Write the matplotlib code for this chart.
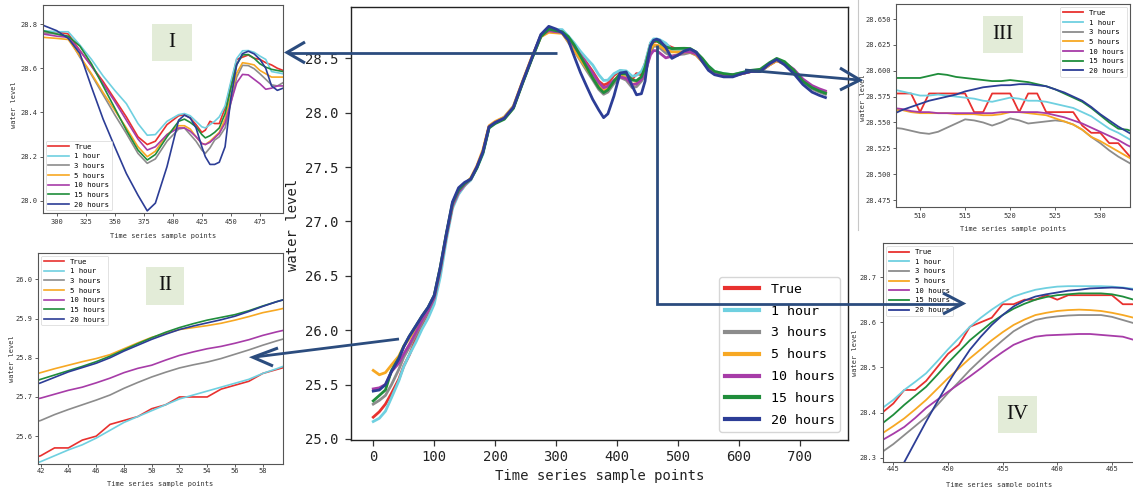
import numpy as np
import matplotlib
matplotlib.use("Agg")
import matplotlib.pyplot as plt
from matplotlib.lines import Line2D
from matplotlib.patches import Rectangle

W, H = 1133, 487
MONO = "DejaVu Sans Mono"

labels = ["True", "1 hour", "3 hours", "5 hours", "10 hours", "15 hours", "20 hours"]
colors = ["#e8312f", "#6fd0e0", "#8c8c8c", "#f7a823", "#a73ca8", "#1f8d3b", "#2c3d96"]

# ---- main chart data (sample index vs water level)
main_x = [0, 10, 20, 30, 42, 50, 59, 70, 80, 90, 100, 110, 120, 130, 140, 150, 160, 170,
          180, 190, 200, 215, 230, 245, 260, 275, 288, 300, 310, 320, 330, 340, 350, 360,
          370, 378, 385, 395, 405, 415, 425, 432, 440, 446, 450, 455, 460, 465, 470, 480,
          490, 500, 510, 520, 530, 540, 550, 560, 575, 590, 605, 620, 635, 650, 662, 675,
          690, 705, 720, 732, 742]
main_y = {
    "True": [25.20, 25.25, 25.32, 25.42, 25.55, 25.67, 25.77, 25.92, 26.05, 26.16, 26.29, 26.55,
             26.87, 27.15, 27.26, 27.33, 27.39, 27.50, 27.64, 27.87, 27.91, 27.95, 28.05, 28.28,
             28.50, 28.71, 28.765, 28.765, 28.755, 28.68, 28.61, 28.54, 28.46, 28.38, 28.29,
             28.255, 28.27, 28.345, 28.385, 28.375, 28.31, 28.36, 28.35, 28.45, 28.53, 28.64,
             28.65, 28.66, 28.645, 28.625, 28.60, 28.58, 28.56, 28.578, 28.54, 28.48, 28.42,
             28.37, 28.35, 28.34, 28.36, 28.38, 28.38, 28.44, 28.48, 28.45, 28.38, 28.29, 28.23,
             28.20, 28.18],
    "1 hour": [25.16, 25.19, 25.255, 25.38, 25.535, 25.665, 25.772, 25.89, 26.01, 26.11, 26.24,
               26.49, 26.83, 27.12, 27.25, 27.33, 27.38, 27.49, 27.62, 27.86, 27.91, 27.96, 28.06,
               28.28, 28.50, 28.71, 28.77, 28.765, 28.765, 28.705, 28.64, 28.565, 28.50, 28.44,
               28.35, 28.297, 28.30, 28.36, 28.39, 28.385, 28.335, 28.345, 28.38, 28.45, 28.54,
               28.644, 28.679, 28.679, 28.672, 28.64, 28.58, 28.578, 28.576, 28.574, 28.55,
               28.49, 28.43, 28.38, 28.36, 28.35, 28.37, 28.39, 28.39, 28.45, 28.49, 28.46,
               28.39, 28.30, 28.23, 28.20, 28.18],
    "3 hours": [25.32, 25.355, 25.40, 25.50, 25.64, 25.751, 25.843, 25.96, 26.07, 26.17, 26.29,
                26.55, 26.87, 27.14, 27.27, 27.34, 27.39, 27.50, 27.64, 27.87, 27.91, 27.95,
                28.05, 28.28, 28.50, 28.70, 28.76, 28.755, 28.74, 28.65, 28.57, 28.48, 28.39,
                28.305, 28.215, 28.17, 28.19, 28.27, 28.325, 28.30, 28.23, 28.24, 28.29, 28.35,
                28.443, 28.56, 28.613, 28.612, 28.598, 28.55, 28.52, 28.535, 28.54, 28.554,
                28.53, 28.47, 28.41, 28.37, 28.35, 28.34, 28.36, 28.38, 28.38, 28.44, 28.48,
                28.45, 28.38, 28.29, 28.22, 28.19, 28.17],
    "5 hours": [25.63, 25.59, 25.61, 25.68, 25.762, 25.852, 25.922, 26.02, 26.11, 26.20, 26.31,
                26.57, 26.88, 27.15, 27.28, 27.34, 27.40, 27.51, 27.66, 27.88, 27.92, 27.96,
                28.06, 28.29, 28.51, 28.70, 28.74, 28.735, 28.73, 28.655, 28.575, 28.49, 28.41,
                28.33, 28.245, 28.20, 28.225, 28.30, 28.34, 28.325, 28.26, 28.27, 28.31, 28.387,
                28.476, 28.578, 28.625, 28.621, 28.615, 28.575, 28.56, 28.56, 28.559, 28.56,
                28.532, 28.47, 28.41, 28.36, 28.34, 28.34, 28.36, 28.38, 28.39, 28.44, 28.48,
                28.45, 28.39, 28.30, 28.24, 28.21, 28.19],
    "10 hours": [25.46, 25.47, 25.50, 25.62, 25.697, 25.781, 25.866, 25.98, 26.09, 26.18, 26.30,
                 26.56, 26.87, 27.15, 27.27, 27.34, 27.39, 27.50, 27.64, 27.87, 27.91, 27.95,
                 28.05, 28.28, 28.50, 28.71, 28.755, 28.745, 28.74, 28.68, 28.61, 28.53, 28.45,
                 28.365, 28.28, 28.23, 28.245, 28.30, 28.33, 28.315, 28.26, 28.265, 28.305,
                 28.368, 28.446, 28.534, 28.572, 28.57, 28.55, 28.505, 28.52, 28.53, 28.56,
                 28.56, 28.541, 28.48, 28.42, 28.37, 28.35, 28.35, 28.36, 28.38, 28.39, 28.45,
                 28.49, 28.46, 28.40, 28.31, 28.25, 28.22, 28.20],
    "15 hours": [25.35, 25.40, 25.45, 25.63, 25.745, 25.851, 25.943, 26.04, 26.13, 26.21, 26.32,
                 26.58, 26.89, 27.17, 27.29, 27.35, 27.39, 27.49, 27.63, 27.86, 27.90, 27.94,
                 28.04, 28.27, 28.49, 28.70, 28.77, 28.755, 28.745, 28.70, 28.62, 28.52, 28.42,
                 28.32, 28.23, 28.185, 28.21, 28.29, 28.36, 28.355, 28.30, 28.295, 28.33,
                 28.417, 28.51, 28.616, 28.66, 28.662, 28.645, 28.605, 28.59, 28.592, 28.593,
                 28.591, 28.557, 28.50, 28.43, 28.38, 28.36, 28.35, 28.37, 28.39, 28.40, 28.46,
                 28.50, 28.47, 28.39, 28.29, 28.23, 28.20, 28.18],
    "20 hours": [25.44, 25.45, 25.50, 25.62, 25.736, 25.847, 25.943, 26.04, 26.13, 26.21, 26.32,
                 26.58, 26.89, 27.18, 27.31, 27.36, 27.39, 27.50, 27.64, 27.87, 27.91, 27.95,
                 28.05, 28.28, 28.50, 28.72, 28.795, 28.77, 28.735, 28.667, 28.515, 28.37,
                 28.245, 28.124, 28.026, 27.955, 27.99, 28.155, 28.365, 28.375, 28.245, 28.165,
                 28.175, 28.29, 28.465, 28.616, 28.666, 28.677, 28.665, 28.60, 28.50, 28.53,
                 28.568, 28.586, 28.558, 28.47, 28.39, 28.35, 28.33, 28.33, 28.36, 28.38, 28.38,
                 28.45, 28.49, 28.44, 28.36, 28.26, 28.19, 28.16, 28.14],
}

# ---- panel I (samples 288-495)
p1_x = [288, 300, 310, 320, 330, 340, 350, 360, 370, 378, 385, 395, 405, 410, 415, 420, 425,
        428, 432, 436, 440, 445, 450, 455, 460, 465, 470, 475, 480, 485, 490, 495]
p1_y = {
    "True": [28.765, 28.765, 28.755, 28.68, 28.61, 28.54, 28.46, 28.38, 28.29, 28.255, 28.27,
             28.345, 28.385, 28.39, 28.375, 28.345, 28.31, 28.32, 28.36, 28.35, 28.35, 28.42,
             28.53, 28.64, 28.65, 28.66, 28.645, 28.64, 28.625, 28.615, 28.60, 28.59],
    "1 hour": [28.77, 28.765, 28.765, 28.705, 28.64, 28.565, 28.50, 28.44, 28.35, 28.297, 28.30,
               28.36, 28.39, 28.395, 28.385, 28.36, 28.335, 28.33, 28.345, 28.36, 28.38, 28.43,
               28.54, 28.644, 28.679, 28.68, 28.672, 28.655, 28.64, 28.585, 28.58, 28.575],
    "3 hours": [28.76, 28.755, 28.74, 28.65, 28.57, 28.48, 28.39, 28.305, 28.215, 28.17, 28.19,
                28.27, 28.325, 28.33, 28.30, 28.27, 28.23, 28.215, 28.24, 28.275, 28.29, 28.33,
                28.443, 28.56, 28.613, 28.612, 28.598, 28.575, 28.55, 28.525, 28.52, 28.535],
    "5 hours": [28.74, 28.735, 28.73, 28.655, 28.575, 28.49, 28.41, 28.33, 28.245, 28.20, 28.225,
                28.30, 28.34, 28.34, 28.325, 28.29, 28.26, 28.255, 28.27, 28.29, 28.31, 28.37,
                28.476, 28.578, 28.625, 28.621, 28.615, 28.59, 28.575, 28.56, 28.56, 28.56],
    "10 hours": [28.755, 28.745, 28.74, 28.68, 28.61, 28.53, 28.45, 28.365, 28.28, 28.23, 28.245,
                 28.30, 28.33, 28.33, 28.315, 28.29, 28.26, 28.255, 28.265, 28.285, 28.305,
                 28.353, 28.446, 28.534, 28.572, 28.57, 28.55, 28.53, 28.505, 28.51, 28.52, 28.52],
    "15 hours": [28.77, 28.755, 28.745, 28.70, 28.62, 28.52, 28.42, 28.32, 28.23, 28.185, 28.21,
                 28.29, 28.36, 28.37, 28.355, 28.335, 28.30, 28.285, 28.295, 28.31, 28.33, 28.395,
                 28.51, 28.616, 28.66, 28.662, 28.645, 28.62, 28.605, 28.595, 28.59, 28.585],
    "20 hours": [28.795, 28.77, 28.735, 28.667, 28.515, 28.37, 28.245, 28.124, 28.026, 27.955,
                 27.99, 28.155, 28.365, 28.388, 28.375, 28.33, 28.245, 28.20, 28.165, 28.165,
                 28.175, 28.245, 28.465, 28.616, 28.666, 28.677, 28.665, 28.64, 28.60, 28.52,
                 28.50, 28.51],
}

# ---- panel II (samples 41-60)
p2_x = list(range(41, 61))
p2_y = {
    "True": [25.54, 25.55, 25.57, 25.57, 25.59, 25.60, 25.63, 25.64, 25.65, 25.67, 25.68, 25.70,
             25.70, 25.70, 25.72, 25.73, 25.74, 25.76, 25.77, 25.78],
    "1 hour": [25.525, 25.535, 25.55, 25.565, 25.578, 25.595, 25.615, 25.635, 25.65, 25.665,
               25.68, 25.695, 25.705, 25.715, 25.725, 25.735, 25.745, 25.76, 25.772, 25.785],
    "3 hours": [25.63, 25.64, 25.655, 25.668, 25.68, 25.692, 25.705, 25.722, 25.737, 25.751,
                25.763, 25.774, 25.782, 25.789, 25.798, 25.809, 25.82, 25.832, 25.843, 25.853],
    "5 hours": [25.752, 25.762, 25.772, 25.781, 25.79, 25.798, 25.808, 25.823, 25.838, 25.852,
                25.862, 25.872, 25.877, 25.882, 25.888, 25.896, 25.905, 25.915, 25.922, 25.93],
    "10 hours": [25.69, 25.697, 25.707, 25.717, 25.725, 25.736, 25.748, 25.762, 25.773, 25.781,
                 25.794, 25.806, 25.815, 25.823, 25.829, 25.837, 25.846, 25.857, 25.866, 25.874],
    "15 hours": [25.733, 25.745, 25.756, 25.767, 25.778, 25.79, 25.804, 25.82, 25.836, 25.851,
                 25.865, 25.877, 25.887, 25.896, 25.903, 25.91, 25.92, 25.932, 25.943, 25.953],
    "20 hours": [25.724, 25.736, 25.75, 25.764, 25.775, 25.786, 25.80, 25.817, 25.832, 25.847,
                 25.86, 25.872, 25.881, 25.889, 25.897, 25.906, 25.918, 25.931, 25.943, 25.953],
}

# ---- panel III (samples 507-534)
p3_x = list(range(507, 535))
p3_y = {
    "True": [28.578, 28.578, 28.578, 28.56, 28.578, 28.578, 28.578, 28.578, 28.578, 28.56, 28.56,
             28.578, 28.578, 28.578, 28.56, 28.578, 28.578, 28.56, 28.56, 28.56, 28.56, 28.547,
             28.54, 28.54, 28.53, 28.53, 28.52, 28.51],
    "1 hour": [28.582, 28.58, 28.578, 28.576, 28.576, 28.577, 28.576, 28.575, 28.574, 28.573,
               28.571, 28.570, 28.572, 28.574, 28.573, 28.571, 28.571, 28.57, 28.568, 28.566,
               28.564, 28.56, 28.556, 28.55, 28.544, 28.54, 28.535, 28.53],
    "3 hours": [28.545, 28.544, 28.542, 28.54, 28.539, 28.541, 28.545, 28.549, 28.553, 28.552,
                28.55, 28.547, 28.55, 28.554, 28.552, 28.549, 28.55, 28.551, 28.552, 28.551,
                28.548, 28.543, 28.536, 28.53, 28.523, 28.517, 28.512, 28.507],
    "5 hours": [28.562, 28.562, 28.56, 28.559, 28.559, 28.559, 28.559, 28.558, 28.558, 28.558,
                28.557, 28.557, 28.558, 28.56, 28.56, 28.559, 28.558, 28.557, 28.554, 28.551,
                28.548, 28.543, 28.536, 28.532, 28.527, 28.522, 28.517, 28.512],
    "10 hours": [28.564, 28.563, 28.561, 28.56, 28.56, 28.559, 28.559, 28.559, 28.559, 28.559,
                 28.559, 28.559, 28.56, 28.56, 28.56, 28.56, 28.56, 28.559, 28.557, 28.555,
                 28.552, 28.549, 28.545, 28.541, 28.537, 28.533, 28.528, 28.524],
    "15 hours": [28.593, 28.593, 28.593, 28.593, 28.595, 28.597, 28.596, 28.594, 28.593, 28.592,
                 28.591, 28.59, 28.59, 28.591, 28.59, 28.589, 28.587, 28.585, 28.582, 28.578,
                 28.574, 28.57, 28.564, 28.557, 28.55, 28.544, 28.543, 28.54],
    "20 hours": [28.558, 28.562, 28.565, 28.568, 28.571, 28.573, 28.575, 28.577, 28.58, 28.582,
                 28.584, 28.585, 28.586, 28.586, 28.587, 28.587, 28.586, 28.585, 28.582, 28.579,
                 28.575, 28.571, 28.565, 28.558, 28.552, 28.546, 28.541, 28.536],
}

# ---- panel IV (samples 444-468)
p4_x = list(range(444, 469))
p4_y = {
    "True": [28.40, 28.42, 28.45, 28.45, 28.47, 28.50, 28.53, 28.55, 28.59, 28.60, 28.61, 28.64,
             28.64, 28.65, 28.65, 28.66, 28.65, 28.66, 28.66, 28.66, 28.66, 28.66, 28.64, 28.64,
             28.64],
    "1 hour": [28.41, 28.428, 28.45, 28.468, 28.487, 28.513, 28.54, 28.565, 28.59, 28.61, 28.628,
               28.644, 28.657, 28.665, 28.672, 28.676, 28.679, 28.68, 28.68, 28.68, 28.68,
               28.679, 28.677, 28.674, 28.67],
    "3 hours": [28.313, 28.33, 28.35, 28.37, 28.39, 28.416, 28.443, 28.468, 28.494, 28.517,
                28.539, 28.56, 28.58, 28.594, 28.605, 28.61, 28.613, 28.615, 28.616, 28.616,
                28.616, 28.612, 28.605, 28.598, 28.59],
    "5 hours": [28.354, 28.37, 28.387, 28.407, 28.428, 28.452, 28.476, 28.498, 28.52, 28.54,
                28.56, 28.578, 28.594, 28.606, 28.616, 28.621, 28.625, 28.627, 28.628, 28.627,
                28.625, 28.621, 28.616, 28.61, 28.603],
    "10 hours": [28.339, 28.353, 28.368, 28.388, 28.41, 28.428, 28.446, 28.463, 28.48, 28.498,
                 28.517, 28.534, 28.55, 28.56, 28.568, 28.571, 28.572, 28.573, 28.574, 28.574,
                 28.572, 28.57, 28.568, 28.561, 28.555],
    "15 hours": [28.376, 28.395, 28.417, 28.437, 28.457, 28.483, 28.51, 28.535, 28.56, 28.58,
                 28.60, 28.616, 28.63, 28.641, 28.65, 28.656, 28.66, 28.662, 28.664, 28.664,
                 28.664, 28.662, 28.657, 28.65, 28.645],
    "20 hours": [28.20, 28.245, 28.29, 28.335, 28.38, 28.423, 28.465, 28.503, 28.539, 28.568,
                 28.594, 28.616, 28.635, 28.648, 28.657, 28.662, 28.666, 28.67, 28.672, 28.675,
                 28.676, 28.677, 28.676, 28.672, 28.665],
}


def box(l, t, r, b):
    # pixel box (from top-left) -> figure fraction rect
    return [l / W, 1 - b / H, (r - l) / W, (b - t) / H]


def fx(x, y):
    return x / W, 1 - y / H


fig = plt.figure(figsize=(W / 100, H / 100), dpi=100)

# ---------------- main chart
ax = fig.add_axes(box(350.7, 7.3, 848, 440))
for lab, c in zip(labels, colors):
    ax.plot(main_x, main_y[lab], color=c, lw=2.0, label=lab)
ax.set_xlim(-37, 779)
ax.set_ylim(24.99, 28.97)
ax.set_xticks(np.arange(0, 701, 100))
ax.set_yticks(np.arange(25.0, 28.51, 0.5))
ax.set_yticklabels([f"{v:.1f}" for v in np.arange(25.0, 28.51, 0.5)])
ax.tick_params(labelsize=10, length=4, width=0.9, color="#333333", labelcolor="#222222")
ax.tick_params(axis="y", pad=5)
for lbl in ax.get_xticklabels() + ax.get_yticklabels():
    lbl.set_family(MONO)
for s in ax.spines.values():
    s.set_color("#222222")
    s.set_linewidth(1.0)
ax.set_xlabel("Time series sample points", family=MONO, fontsize=10, color="#222222")
ax.set_ylabel("water level", family=MONO, fontsize=10, color="#222222")
ax.xaxis.set_label_coords(0.5, -0.067)
ax.yaxis.set_label_coords(-0.102, 0.497)
leg = ax.legend(loc="lower right", prop={"family": MONO, "size": 9.5}, handlelength=2.6,
                handletextpad=0.9, borderaxespad=0.6, labelspacing=0.67)
for h in leg.get_lines():
    h.set_linewidth(3)


def inset(rect, xs, ys, xlim, ylim, xticks, yticks, yfmt, loc, ypad, xpad,
          xlab_xy, ylab_xy, lw=1.2):
    a = fig.add_axes(rect)
    for lab, c in zip(labels, colors):
        a.plot(xs, ys[lab], color=c, lw=lw, label=lab)
    a.set_xlim(*xlim)
    a.set_ylim(*ylim)
    a.set_xticks(xticks)
    a.set_yticks(yticks)
    a.set_yticklabels([yfmt.format(v) for v in yticks])
    a.tick_params(labelsize=5, length=2.5, width=0.6, color="#444444", labelcolor="#333333")
    a.tick_params(axis="y", pad=ypad)
    a.tick_params(axis="x", pad=xpad)
    for lbl in a.get_xticklabels() + a.get_yticklabels():
        lbl.set_family(MONO)
    for s in a.spines.values():
        s.set_color("#555555")
        s.set_linewidth(0.8)
    a.set_xlabel("Time series sample points", family=MONO, fontsize=5, color="#333333")
    a.set_ylabel("water level", family=MONO, fontsize=5, color="#333333")
    a.xaxis.set_label_coords(*xlab_xy)
    a.yaxis.set_label_coords(*ylab_xy)
    lg = a.legend(loc=loc, prop={"family": MONO, "size": 5.2}, handlelength=2.8,
                  handletextpad=0.8, borderaxespad=0.4, labelspacing=0.5)
    lg.get_frame().set_linewidth(0.5)
    return a


# panel I
inset(box(42.7, 5, 282.7, 213.3), p1_x, p1_y, (288, 494.6), (27.944, 28.886),
      np.arange(300, 476, 25), np.arange(28.0, 28.81, 0.2), "{:.1f}", "lower left",
      1.5, 1.4, (0.5, -0.093), (-0.107, 0.52))
# panel II
inset(box(38.3, 252.7, 282.7, 464), p2_x, p2_y, (41.83, 59.44), (25.529, 26.068),
      np.arange(42, 59, 2), np.arange(25.6, 26.01, 0.1), "{:.1f}", "upper left",
      1.5, 0.5, (0.5, -0.079), (-0.097, 0.5))
# panel III
inset(box(896, 4, 1130, 207.3), p3_x, p3_y, (507.33, 533.3), (28.468, 28.6645),
      np.arange(510, 531, 5), np.arange(28.475, 28.651, 0.025), "{:.3f}", "upper right",
      1.2, 1.4, (0.5, -0.092), (-0.13, 0.54), lw=1.3)
# panel IV (cut off at the right edge of the picture)
inset(box(883.3, 243.3, 1160, 461.7), p4_x, p4_y, (444.08, 469.4), (28.291, 28.775),
      np.arange(445, 466, 5), np.arange(28.3, 28.71, 0.1), "{:.1f}", "upper left",
      2.3, 0.3, ((998.7 - 883.3) / 276.7, -0.092), (-0.09, 0.498), lw=1.3)

# thin border of the panel III picture
fig.add_artist(Line2D([858 / W, 858 / W], [1, 1 - 230 / H], color="#c8c8c8", lw=0.8))

# ---------------- arrows
NAVY = "#2b4c7e"


def polyline(pts, lw=2.0):
    xs, ys = zip(*[fx(*p) for p in pts])
    fig.add_artist(Line2D(xs, ys, color=NAVY, lw=lw, solid_capstyle="butt",
                          solid_joinstyle="miter"))


polyline([(557, 52.5), (288, 52.5)])
polyline([(305, 42), (287, 52.5), (305, 63)], lw=2.2)
polyline([(399, 339), (255, 357)])
polyline([(278, 348), (253, 357.3), (273, 366)], lw=2.2)
polyline([(745, 70), (859, 80)])
polyline([(840, 68), (860, 80), (840, 90)], lw=2.2)
polyline([(657, 45), (657, 303.5), (961, 303.5)])
polyline([(943, 293), (963, 303.5), (943, 314)], lw=2.2)

# ---------------- roman numeral tags
for txt, (l, t, r, b) in [("I", (152, 24, 192, 61)), ("II", (146, 267, 184, 305)),
                          ("III", (983, 16, 1023, 53)), ("IV", (998, 396, 1037, 433))]:
    x0, y0 = fx(l, b)
    fig.add_artist(Rectangle((x0, y0), (r - l) / W, (b - t) / H, transform=fig.transFigure,
                             facecolor="#e3ecd8", edgecolor="none"))
    cx, cy = fx((l + r) / 2, (t + b) / 2)
    fig.text(cx, cy, txt, family="Liberation Serif", fontsize=15, ha="center", va="center",
             color="#111111")

fig.savefig("out.png", dpi=100)
